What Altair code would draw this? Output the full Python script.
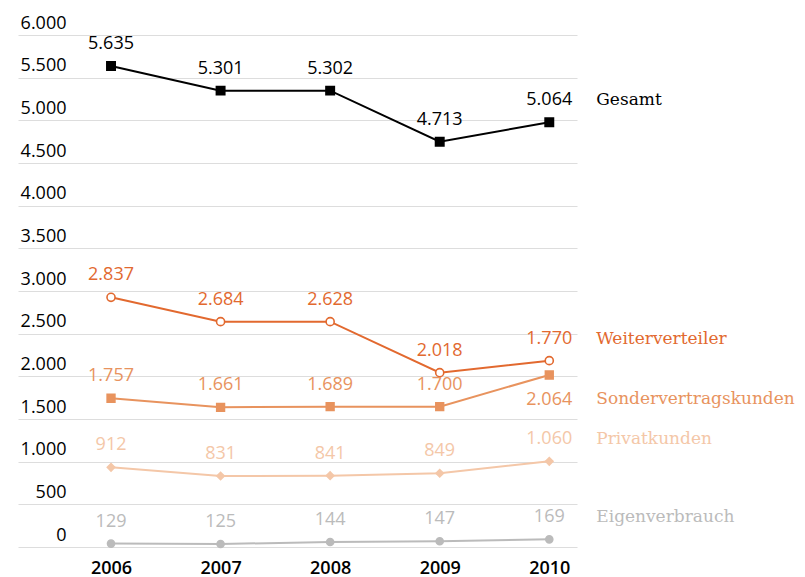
import altair as alt
import pandas as pd

years = [2006, 2007, 2008, 2009, 2010]
series_names = ["Gesamt", "Weiterverteiler", "Sondervertragskunden", "Privatkunden", "Eigenverbrauch"]

# plotted positions
gesamt = [5637, 5348, 5348, 4750, 4977]
weiterverteiler = [2926, 2641, 2641, 2043, 2184]
sondervertragskunden = [1743, 1637, 1645, 1645, 2016]
privatkunden = [934, 832, 836, 864, 1004]
eigenverbrauch = [40, 35, 59, 67, 90]

# printed value labels
gesamt_labels = ["5.635", "5.301", "5.302", "4.713", "5.064"]
weiterverteiler_labels = ["2.837", "2.684", "2.628", "2.018", "1.770"]
sondervertragskunden_labels = ["1.757", "1.661", "1.689", "1.700", "2.064"]
privatkunden_labels = ["912", "831", "841", "849", "1.060"]
eigenverbrauch_labels = ["129", "125", "144", "147", "169"]

# label placed below the point instead of above
labels_below = [("Sondervertragskunden", 2010)]

series_values = [gesamt, weiterverteiler, sondervertragskunden, privatkunden, eigenverbrauch]
series_labels = [gesamt_labels, weiterverteiler_labels, sondervertragskunden_labels,
                 privatkunden_labels, eigenverbrauch_labels]

rows = []
for name, vals, labs in zip(series_names, series_values, series_labels):
    for yr, v, lab in zip(years, vals, labs):
        rows.append({"series": name, "year": yr, "value": v, "label": lab,
                     "pos": "below" if (name, yr) in labels_below else "above"})
df = pd.DataFrame(rows)

line_colors = ["#000000", "#E2692F", "#E8935E", "#F4C7A8", "#BBBBBB"]
text_colors = ["#111111", "#E2692F", "#E8935E", "#F4C7A8", "#BBBBBB"]
shapes = ["square", "circle", "square", "diamond", "circle"]
fills = ["#000000", "#FFFFFF", "#E8935E", "#F4C7A8", "#BBBBBB"]
sizes = [70, 50, 70, 100, 30]

x_enc = alt.X("year:Q",
              scale=alt.Scale(domain=[2005.151, 2010.253], nice=False, zero=False),
              axis=alt.Axis(values=years, format="d", grid=False, domain=False, ticks=False,
                            labelPadding=26, labelBaseline="alphabetic", labelFontSize=18,
                            labelFont="Open Sans", labelFontWeight=600, labelColor="#000000",
                            title=None))
y_enc = alt.Y("value:Q",
              scale=alt.Scale(domain=[0, 6000], nice=False),
              axis=alt.Axis(values=list(range(0, 6001, 500)),
                            labelExpr="replace(format(datum.value, ','), ',', '.')",
                            grid=True, gridColor="#dddddd", gridWidth=1, domain=False, ticks=False,
                            labelAlign="right", labelPadding=-48, labelBaseline="alphabetic",
                            labelOffset=-7, labelFontSize=18, labelFont="Open Sans",
                            labelColor="#000000", title=None))

color_scale = alt.Scale(domain=series_names, range=line_colors)
text_scale = alt.Scale(domain=series_names, range=text_colors)

base = alt.Chart(df).encode(x=x_enc, y=y_enc)

lines = base.mark_line(strokeWidth=2).encode(
    color=alt.Color("series:N", scale=color_scale, legend=None),
    detail="series:N",
)

points = base.mark_point(filled=False, strokeWidth=1.6, opacity=1).encode(
    shape=alt.Shape("series:N", scale=alt.Scale(domain=series_names, range=shapes), legend=None),
    fill=alt.Fill("series:N", scale=alt.Scale(domain=series_names, range=fills), legend=None),
    stroke=alt.Stroke("series:N", scale=color_scale, legend=None),
    size=alt.Size("series:N", scale=alt.Scale(domain=series_names, range=sizes), legend=None),
)

labels_above = base.transform_filter(alt.datum.pos == "above").mark_text(
    font="Open Sans", fontSize=18, baseline="middle", align="center", dy=-22
).encode(
    text="label:N",
    color=alt.Color("series:N", scale=text_scale, legend=None),
)

labels_under = base.transform_filter(alt.datum.pos == "below").mark_text(
    font="Open Sans", fontSize=18, baseline="middle", align="center", dy=25
).encode(
    text="label:N",
    color=alt.Color("series:N", scale=text_scale, legend=None),
)

names_above = base.transform_filter(
    (alt.datum.year == 2010) & (alt.datum.pos == "above")
).mark_text(font="DejaVu Serif", fontSize=17, baseline="middle", align="left", dx=47, dy=-22).encode(
    text="series:N",
    color=alt.Color("series:N", scale=text_scale, legend=None),
)

names_under = base.transform_filter(
    (alt.datum.year == 2010) & (alt.datum.pos == "below")
).mark_text(font="DejaVu Serif", fontSize=17, baseline="middle", align="left", dx=47, dy=24).encode(
    text="series:N",
    color=alt.Color("series:N", scale=text_scale, legend=None),
)

chart = alt.layer(lines, points, labels_above, labels_under, names_above, names_under).properties(
    width=559, height=512,
    autosize=alt.AutoSizeParams(type="none"),
    padding={"left": 10, "top": 27, "right": 220, "bottom": 30},
).configure_view(stroke=None).resolve_scale(color="shared")

chart.save("out.html", embed_options={"renderer": "svg", "actions": False})
